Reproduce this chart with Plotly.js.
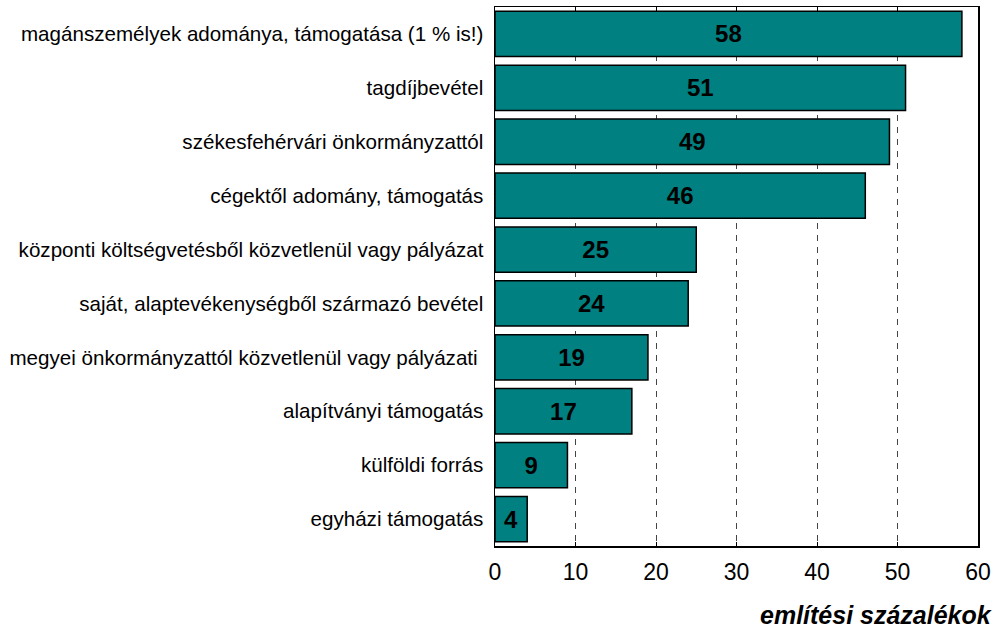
<!DOCTYPE html>
<html>
<head>
<meta charset="utf-8">
<script src="https://cdn.plot.ly/plotly-3.0.1.min.js"></script>
<style>html,body{margin:0;padding:0;background:#fff;}#chart{width:1001px;height:628px;}</style>
</head>
<body>
<div id="chart"></div>
<script>
var categories = [
  "magánszemélyek adománya, támogatása (1 % is!)",
  "tagdíjbevétel",
  "székesfehérvári önkormányzattól",
  "cégektől adomány, támogatás",
  "központi költségvetésből közvetlenül vagy pályázat",
  "saját, alaptevékenységből származó bevétel",
  "megyei önkormányzattól közvetlenül vagy pályázati\u00a0",
  "alapítványi támogatás",
  "külföldi forrás",
  "egyházi támogatás"
];
var values = [58, 51, 49, 46, 25, 24, 19, 17, 9, 4];
var xTicks = [0, 10, 20, 30, 40, 50, 60];
var xTitle = "említési százalékok";

var font = "Arial, 'Liberation Sans', sans-serif";

var trace = {
  type: "bar",
  orientation: "h",
  x: values,
  y: categories,
  marker: {color: "#008080", line: {color: "#000000", width: 1.5}},
  text: values.map(String),
  textposition: "inside",
  insidetextanchor: "middle",
  textangle: 0,
  constraintext: "none",
  textfont: {family: font, size: 24, color: "#000000", weight: "bold"},
  hoverinfo: "none"
};

var layout = {
  width: 1001,
  height: 628,
  margin: {l: 495, r: 23, t: 7, b: 82},
  paper_bgcolor: "#ffffff",
  plot_bgcolor: "#ffffff",
  showlegend: false,
  bargap: 0.16,
  font: {family: font, color: "#000000"},
  xaxis: {
    range: [0, 60],
    tickvals: xTicks,
    ticktext: xTicks.map(String),
    tickfont: {family: font, size: 23, color: "#000000"},
    showgrid: true,
    gridcolor: "#444444",
    gridwidth: 1,
    griddash: "6px,6px",
    zeroline: false,
    showline: true,
    linecolor: "#000000",
    linewidth: 1.5,
    mirror: "ticks",
    ticks: "inside",
    ticklen: 4,
    tickcolor: "#000000",
    ticklabelstandoff: 5
  },
  yaxis: {
    autorange: "reversed",
    tickfont: {family: font, size: 20.6, color: "#000000"},
    showgrid: false,
    zeroline: false,
    showline: true,
    linecolor: "#000000",
    linewidth: 1.5,
    mirror: true,
    ticks: "",
    ticklabelstandoff: 6
  },
  annotations: [{
    text: xTitle,
    xref: "paper", yref: "paper",
    x: (994 - 495) / 483, y: -(615 - 546) / 539,
    xanchor: "right", yanchor: "middle",
    showarrow: false,
    font: {family: font, size: 25, color: "#000000", weight: "bold", style: "italic"}
  }]
};

Plotly.newPlot("chart", [trace], layout, {displayModeBar: false, staticPlot: true});
</script>
</body>
</html>
